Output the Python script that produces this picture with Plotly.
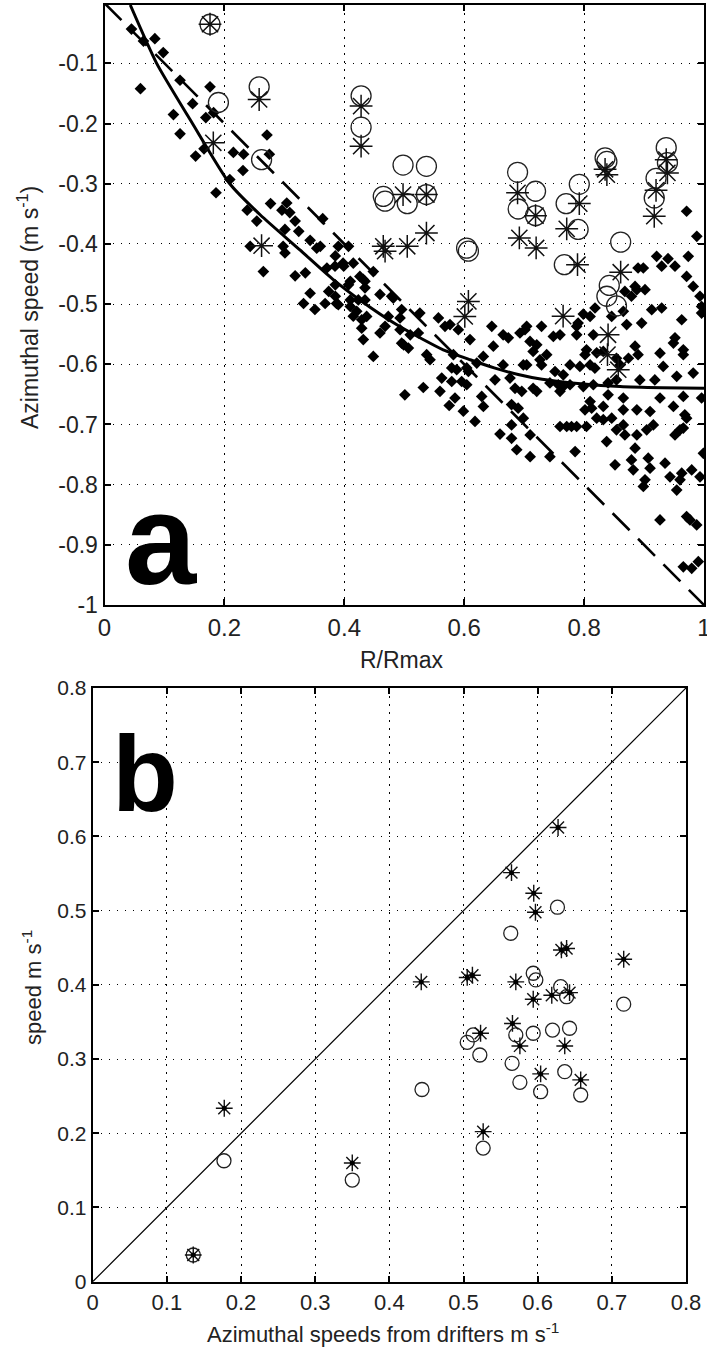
import plotly.graph_objects as go

# ---------------- Panel a data ----------------
diam_x = [0.045, 0.065, 0.060, 0.084, 0.098, 0.126, 0.176, 0.147, 0.169, 0.182, 0.115, 0.126, 0.152, 0.166,
          0.215, 0.232, 0.271, 0.275, 0.231, 0.209, 0.186, 0.238, 0.254, 0.277, 0.296, 0.304, 0.318, 0.301,
          0.324, 0.243, 0.265, 0.298, 0.301, 0.343, 0.360, 0.390, 0.407, 0.318, 0.335, 0.343, 0.371, 0.398,
          0.385, 0.374, 0.407, 0.332, 0.351, 0.368, 0.387, 0.410, 0.415,
          0.309, 0.364, 0.354, 0.385, 0.385, 0.410,
          0.415, 0.410, 0.426, 0.4345, 0.4595, 0.479, 0.4345, 0.4957, 0.526, 0.557,
          0.399, 0.390, 0.4317, 0.4345, 0.4484, 0.4234, 0.4207, 0.429, 0.4373, 0.429, 0.4317, 0.4484, 0.4595,
          0.468, 0.4734, 0.4817, 0.493, 0.493, 0.499, 0.5069, 0.510, 0.5235, 0.5374, 0.543, 0.568, 0.5763,
          0.5902, 0.6097, 0.646, 0.6486, 0.665, 0.6736, 0.693, 0.7014, 0.582, 0.5792, 0.5875, 0.6042, 0.607,
          0.6319, 0.621, 0.665, 0.6514, 0.6764, 0.6848, 0.6986, 0.696, 0.5625, 0.5792, 0.5958, 0.6042, 0.501,
          0.5318, 0.5596, 0.575, 0.5846, 0.5986, 0.6292, 0.632, 0.618, 0.679, 0.690, 0.6986, 0.3845, 0.4957,
          0.7042, 0.729, 0.7098, 0.721, 0.7487, 0.7598, 0.7876, 0.790, 0.7987, 0.810, 0.8182, 0.8154, 0.846,
          0.871, 0.896, 0.9128, 0.9294, 0.9628, 0.9516, 0.949, 0.9655, 0.9655, 0.996, 0.996, 0.9933, 0.982,
          0.971, 0.9516, 0.9294, 0.940, 0.9738, 0.921, 0.890, 0.8988, 0.885, 0.888, 0.879, 0.868, 0.7876,
          0.8015, 0.810, 0.818, 0.793, 0.854, 0.860, 0.874, 0.885, 0.890, 0.854, 0.893, 0.918, 0.932, 0.982,
          0.996, 0.9266, 0.949, 0.9655, 0.888, 0.910, 0.8654, 0.840, 0.832, 0.8654, 0.810, 0.8015, 0.821,
          0.971, 0.7765, 0.7653, 0.757, 0.743, 0.7515, 0.7376, 0.7264, 0.729, 0.7042, 0.715, 0.715, 0.721,
          0.7598, 0.765, 0.7765, 0.7987, 0.8154, 0.8126, 0.840, 0.832, 0.804, 0.821,
          0.971, 0.988, 0.9016, 0.8654,
          0.6597, 0.679, 0.6876, 0.710, 0.710, 0.679, 0.743, 0.785, 0.7598, 0.771, 0.779, 0.7876, 0.804,
          0.8376, 0.854, 0.8654, 0.868, 0.888, 0.885, 0.9044, 0.9155, 0.9516, 0.960, 0.9655, 0.999, 0.8516,
          0.879, 0.882, 0.907, 0.910, 0.8988, 0.9016, 0.935, 0.9433, 0.9545, 0.9628, 0.960, 0.9795, 0.9933,
          0.9266, 0.971, 0.9766, 0.9878, 0.9655, 0.9795, 0.9905,
          0.9266, 0.9545, 0.968, 0.846, 0.832]
diam_y = [-0.043, -0.063, -0.142, -0.059, -0.082, -0.128, -0.139, -0.167, -0.190, -0.182, -0.185, -0.217, -0.254, -0.242,
          -0.248, -0.251, -0.219, -0.251, -0.278, -0.293, -0.315, -0.344, -0.362, -0.333, -0.344, -0.332, -0.362, -0.376,
          -0.379, -0.404, -0.446, -0.404, -0.415, -0.394, -0.404, -0.404, -0.404, -0.453, -0.448, -0.482, -0.440, -0.432,
          -0.468, -0.479, -0.468, -0.499, -0.509, -0.499, -0.499, -0.504, -0.520,
          -0.348, -0.358, -0.407, -0.420, -0.487, -0.493,
          -0.432, -0.462, -0.454, -0.462, -0.484, -0.487, -0.493, -0.509, -0.515, -0.523,
          -0.437, -0.501, -0.459, -0.473, -0.446, -0.493, -0.512, -0.526, -0.5205, -0.540, -0.559, -0.587, -0.548,
          -0.537, -0.5205, -0.490, -0.523, -0.5426, -0.5676, -0.573, -0.551, -0.548, -0.584, -0.5925, -0.537, -0.534,
          -0.5426, -0.559, -0.537, -0.570, -0.551, -0.556, -0.548, -0.5426, -0.584, -0.606, -0.609, -0.606, -0.612,
          -0.587, -0.598, -0.601, -0.6258, -0.623, -0.640, -0.601, -0.645, -0.623, -0.6286, -0.6286, -0.634, -0.6507,
          -0.6386, -0.645, -0.6685, -0.656, -0.678, -0.6535, -0.670, -0.695, -0.667, -0.673, -0.6895, -0.437, -0.565,
          -0.537, -0.537, -0.562, -0.5676, -0.5537, -0.551, -0.537, -0.5315, -0.5165, -0.5205, -0.5065, -0.551, -0.5205,
          -0.534, -0.5315, -0.5093, -0.5065, -0.526, -0.556, -0.5648, -0.576, -0.584, -0.504, -0.515, -0.487, -0.4706,
          -0.454, -0.437, -0.437, -0.4245, -0.4206, -0.4206, -0.440, -0.440, -0.4706, -0.476, -0.487, -0.479, -0.551,
          -0.584, -0.601, -0.6065, -0.6036, -0.590, -0.601, -0.590, -0.570, -0.584, -0.626, -0.626, -0.626, -0.6036, -0.6146,
          -0.656, -0.656, -0.670, -0.6535, -0.6757, -0.6785, -0.656, -0.6507, -0.670, -0.6757, -0.662, -0.6757, -0.6895,
          -0.6895, -0.601, -0.6175, -0.634, -0.631, -0.612, -0.584, -0.5925, -0.601, -0.601, -0.5787, -0.640, -0.645,
          -0.645, -0.637, -0.634, -0.637, -0.634, -0.673, -0.631, -0.5787, -0.576, -0.581,
          -0.3457, -0.3874, -0.476, -0.512,
          -0.716, -0.7007, -0.742, -0.7535, -0.7174, -0.723, -0.7535, -0.745, -0.7034, -0.7034, -0.7034, -0.7034, -0.7034,
          -0.7285, -0.709, -0.7007, -0.7174, -0.7174, -0.7394, -0.709, -0.7007, -0.7174, -0.709, -0.706, -0.748, -0.767,
          -0.759, -0.7754, -0.756, -0.7726, -0.803, -0.792, -0.7644, -0.787, -0.809, -0.781, -0.792, -0.7756, -0.787,
          -0.8587, -0.853, -0.8587, -0.867, -0.9365, -0.939, -0.928,
          -0.5815, -0.620, -0.684, -0.6895, -0.692]

circ_a_x = [0.176, 0.190, 0.258, 0.262, 0.428, 0.428, 0.498, 0.537, 0.465, 0.468, 0.505, 0.537, 0.604, 0.607,
            0.689, 0.690, 0.719, 0.719, 0.792, 0.770, 0.790, 0.767, 0.835, 0.838, 0.937, 0.939, 0.920, 0.917,
            0.861, 0.842, 0.854, 0.838]
circ_a_y = [-0.035, -0.165, -0.139, -0.260, -0.154, -0.206, -0.269, -0.271, -0.321, -0.329, -0.333, -0.318, -0.407, -0.412,
            -0.281, -0.342, -0.3125, -0.353, -0.301, -0.333, -0.376, -0.4345, -0.257, -0.263, -0.240, -0.265, -0.291, -0.3235,
            -0.397, -0.469, -0.503, -0.487]

ast_a_x = [0.176, 0.1815, 0.258, 0.262, 0.428, 0.428, 0.498, 0.537, 0.537, 0.465, 0.468, 0.505, 0.607, 0.601,
           0.689, 0.719, 0.692, 0.720, 0.792, 0.771, 0.789, 0.835, 0.838, 0.937, 0.939, 0.920, 0.917, 0.861,
           0.765, 0.840, 0.839, 0.857]
ast_a_y = [-0.035, -0.232, -0.160, -0.403, -0.171, -0.2376, -0.318, -0.318, -0.382, -0.404, -0.412, -0.404, -0.4955, -0.5205,
           -0.315, -0.353, -0.390, -0.4067, -0.333, -0.375, -0.4345, -0.276, -0.285, -0.260, -0.282, -0.311, -0.354, -0.447,
           -0.520, -0.551, -0.584, -0.609]

fit_x = [0.043, 0.087, 0.145, 0.209, 0.26, 0.326, 0.38, 0.43, 0.487, 0.53, 0.565, 0.61, 0.65, 0.69, 0.73, 0.78,
         0.86, 0.93, 1.0]
fit_y = [-0.003, -0.1, -0.197, -0.3, -0.352, -0.41, -0.458, -0.496, -0.534, -0.558, -0.576, -0.5925, -0.606, -0.617,
         -0.625, -0.631, -0.637, -0.639, -0.640]

ref_a_x = [0.0, 1.0]
ref_a_y = [0.0, -1.0]

# ---------------- Panel b data ----------------
circ_b_x = [0.1356, 0.177, 0.350, 0.444, 0.5265, 0.505, 0.513, 0.522, 0.5705, 0.594, 0.620, 0.643, 0.5655, 0.576,
            0.604, 0.6365, 0.658, 0.716, 0.631, 0.639, 0.594, 0.5975, 0.5637, 0.6267]
circ_b_y = [0.036, 0.163, 0.137, 0.259, 0.180, 0.3226, 0.3325, 0.3055, 0.3325, 0.3348, 0.339, 0.3415, 0.2943, 0.2687,
            0.256, 0.283, 0.2516, 0.374, 0.3976, 0.384, 0.4156, 0.4066, 0.4695, 0.5046]

ast_b_x = [0.1774, 0.1356, 0.350, 0.443, 0.505, 0.512, 0.5705, 0.619, 0.643, 0.594, 0.566, 0.523, 0.576, 0.6365,
           0.604, 0.658, 0.5265, 0.6275, 0.5647, 0.5947, 0.597, 0.632, 0.639, 0.716]
ast_b_y = [0.2337, 0.036, 0.160, 0.404, 0.410, 0.413, 0.404, 0.386, 0.3895, 0.3806, 0.348, 0.3348, 0.3177, 0.3177,
           0.280, 0.272, 0.2022, 0.612, 0.5512, 0.5234, 0.4978, 0.447, 0.449, 0.4345]

diag_x = [0.0, 0.8]
diag_y = [0.0, 0.8]

# ---------------- tick labels ----------------
xa_ticks = [0, 0.2, 0.4, 0.6, 0.8, 1.0]
xa_text = ["0", "0.2", "0.4", "0.6", "0.8", "1"]
ya_ticks = [-0.1, -0.2, -0.3, -0.4, -0.5, -0.6, -0.7, -0.8, -0.9, -1.0]
ya_text = ["-0.1", "-0.2", "-0.3", "-0.4", "-0.5", "-0.6", "-0.7", "-0.8", "-0.9", "-1"]
b_ticks = [0, 0.1, 0.2, 0.3, 0.4, 0.5, 0.6, 0.7, 0.8]
b_text = ["0", "0.1", "0.2", "0.3", "0.4", "0.5", "0.6", "0.7", "0.8"]

FONT = "Liberation Sans, Arial, Helvetica, sans-serif"
INK = "#111111"
W, H = 707, 1354

fig = go.Figure()

# panel a
fig.add_trace(go.Scatter(x=diam_x, y=diam_y, mode="markers", xaxis="x", yaxis="y",
                         marker=dict(symbol="diamond", size=9, color="black", line=dict(width=0)),
                         showlegend=False, cliponaxis=True))
fig.add_trace(go.Scatter(x=ref_a_x, y=ref_a_y, mode="lines", xaxis="x", yaxis="y",
                         line=dict(color="black", width=2.6, dash="24px,12px"), showlegend=False))
fig.add_trace(go.Scatter(x=fit_x, y=fit_y, mode="lines", xaxis="x", yaxis="y",
                         line=dict(color="black", width=3, shape="spline", smoothing=0.6), showlegend=False))
fig.add_trace(go.Scatter(x=circ_a_x, y=circ_a_y, mode="markers", xaxis="x", yaxis="y",
                         marker=dict(symbol="circle-open", size=20, color="#222222", line=dict(width=1.3)),
                         showlegend=False))
fig.add_trace(go.Scatter(x=ast_a_x, y=ast_a_y, mode="markers", xaxis="x", yaxis="y",
                         marker=dict(symbol="asterisk-open", size=19, color="#111111", line=dict(width=1.5)),
                         showlegend=False))

# panel b
fig.add_trace(go.Scatter(x=diag_x, y=diag_y, mode="lines", xaxis="x2", yaxis="y2",
                         line=dict(color="black", width=1.2), showlegend=False))
fig.add_trace(go.Scatter(x=circ_b_x, y=circ_b_y, mode="markers", xaxis="x2", yaxis="y2",
                         marker=dict(symbol="circle-open", size=14, color="#222222", line=dict(width=1.3)),
                         showlegend=False))
fig.add_trace(go.Scatter(x=ast_b_x, y=ast_b_y, mode="markers", xaxis="x2", yaxis="y2",
                         marker=dict(symbol="asterisk-open", size=14, color="#111111", line=dict(width=1.4)),
                         showlegend=False))
fig.add_trace(go.Scatter(x=ast_b_x, y=ast_b_y, mode="markers", xaxis="x2", yaxis="y2",
                         marker=dict(symbol="circle", size=5, color="black"),
                         showlegend=False))

grid = dict(showgrid=True, gridcolor="black", gridwidth=1.3, griddash="1.5px,6.5px",
            showline=True, linecolor="black", linewidth=2, mirror="ticks",
            ticks="inside", ticklen=6, tickwidth=1.5, tickcolor="black",
            zeroline=False, automargin=False, ticklabeloverflow="allow")

fig.update_layout(
    width=W, height=H, autosize=False,
    margin=dict(l=0, r=0, t=0, b=0),
    paper_bgcolor="white", plot_bgcolor="white",
    font=dict(family=FONT, color=INK),
    xaxis=dict(domain=[104.5 / W, 704 / W], anchor="y", range=[0, 1],
               tickvals=xa_ticks, ticktext=xa_text, tickfont=dict(size=24, family=FONT, color="#222"),
               **grid),
    yaxis=dict(domain=[1 - 605 / H, 1 - 5 / H], anchor="x", range=[-1, -0.003],
               tickvals=ya_ticks, ticktext=ya_text, tickfont=dict(size=23, family=FONT, color="#222"),
               **grid),
    xaxis2=dict(domain=[92.7 / W, 686 / W], anchor="y2", range=[0, 0.8],
                tickvals=b_ticks, ticktext=b_text, tickfont=dict(size=22, family=FONT, color="#222"),
                **grid),
    yaxis2=dict(domain=[1 - 1281.7 / H, 1 - 688 / H], anchor="x2", range=[0, 0.8],
                tickvals=b_ticks, ticktext=b_text, tickfont=dict(size=21, family=FONT, color="#222"),
                **grid),
)

ann = [
    dict(text="R/Rmax", x=402 / W, y=1 - 660 / H, font=dict(size=23)),
    dict(text="Azimuthal speed (m s<sup>-1</sup>)", x=28 / W, y=1 - 308 / H, textangle=-90, font=dict(size=23)),
    dict(text="speed m s<sup>-1</sup>", x=32 / W, y=1 - 988 / H, textangle=-90, font=dict(size=22)),
    dict(text="Azimuthal speeds from drifters m s<sup>-1</sup>", x=383 / W, y=1 - 1333 / H, font=dict(size=22)),
    dict(text="<b>a</b>", x=161 / W, y=1 - 540 / H, font=dict(size=128, color="black")),
    dict(text="<b>b</b>", x=144.5 / W, y=1 - 773 / H, font=dict(size=108, color="black")),
]
for a in ann:
    a.update(xref="paper", yref="paper", showarrow=False, xanchor="center", yanchor="middle")
    a["font"].setdefault("family", FONT)
    a["font"].setdefault("color", "#222")
fig.update_layout(annotations=ann)

fig.write_html("out.html")
